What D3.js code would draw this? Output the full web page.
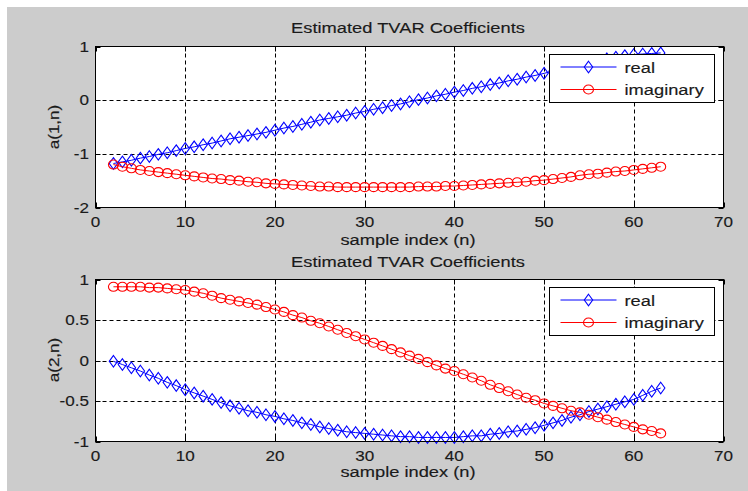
<!DOCTYPE html>
<html><head><meta charset="utf-8">
<script src="https://cdn.jsdelivr.net/npm/d3@7"></script>
<style>html,body{margin:0;padding:0;background:#fff;} svg{display:block;font-family:Arial,"Liberation Sans",sans-serif;}</style>
</head><body><svg id="c" width="748" height="491"></svg>
<script>
const sampleIndex = [2,3,4,5,6,7,8,9,10,11,12,13,14,15,16,17,18,19,20,21,22,23,24,25,26,27,28,29,30,31,32,33,34,35,36,37,38,39,40,41,42,43,44,45,46,47,48,49,50,51,52,53,54,55,56,57,58,59,60,61,62,63];
const a1Real = [-1.18,-1.15,-1.12,-1.08,-1.05,-1.01,-0.98,-0.94,-0.90,-0.87,-0.83,-0.80,-0.76,-0.72,-0.69,-0.66,-0.63,-0.60,-0.56,-0.52,-0.49,-0.45,-0.41,-0.37,-0.34,-0.31,-0.28,-0.24,-0.21,-0.17,-0.14,-0.10,-0.07,-0.03,0.01,0.04,0.08,0.11,0.15,0.18,0.22,0.25,0.29,0.32,0.36,0.39,0.43,0.46,0.50,0.54,0.58,0.62,0.66,0.70,0.73,0.77,0.80,0.83,0.85,0.86,0.87,0.88];
const a1Imag = [-1.20,-1.24,-1.27,-1.30,-1.32,-1.34,-1.36,-1.38,-1.40,-1.42,-1.44,-1.46,-1.47,-1.49,-1.50,-1.52,-1.53,-1.55,-1.56,-1.57,-1.58,-1.59,-1.60,-1.61,-1.61,-1.62,-1.62,-1.62,-1.62,-1.62,-1.62,-1.62,-1.62,-1.62,-1.61,-1.61,-1.61,-1.60,-1.60,-1.59,-1.58,-1.57,-1.56,-1.55,-1.54,-1.53,-1.52,-1.50,-1.49,-1.47,-1.45,-1.43,-1.40,-1.38,-1.37,-1.35,-1.33,-1.32,-1.30,-1.28,-1.26,-1.24];
const a2Real = [-0.01,-0.05,-0.09,-0.13,-0.18,-0.22,-0.27,-0.31,-0.36,-0.40,-0.44,-0.48,-0.52,-0.56,-0.59,-0.62,-0.64,-0.67,-0.69,-0.72,-0.74,-0.77,-0.79,-0.82,-0.84,-0.86,-0.88,-0.89,-0.90,-0.91,-0.92,-0.93,-0.94,-0.94,-0.95,-0.95,-0.95,-0.95,-0.95,-0.94,-0.93,-0.93,-0.91,-0.90,-0.88,-0.87,-0.85,-0.83,-0.80,-0.77,-0.74,-0.70,-0.67,-0.63,-0.60,-0.57,-0.54,-0.51,-0.48,-0.43,-0.38,-0.34];
const a2Imag = [0.91,0.91,0.91,0.91,0.90,0.90,0.89,0.88,0.87,0.85,0.83,0.80,0.77,0.75,0.73,0.71,0.69,0.66,0.63,0.60,0.56,0.53,0.49,0.46,0.42,0.38,0.34,0.30,0.26,0.22,0.18,0.14,0.10,0.06,0.02,-0.02,-0.06,-0.10,-0.13,-0.17,-0.21,-0.25,-0.30,-0.34,-0.38,-0.42,-0.46,-0.49,-0.53,-0.56,-0.59,-0.62,-0.64,-0.67,-0.70,-0.73,-0.76,-0.79,-0.82,-0.85,-0.87,-0.90];
const xTicks = [0,10,20,30,40,50,60,70];
const yTicks1 = [-2,-1,0,1];
const yTicks2 = [-1,-0.5,0,0.5,1];
const seriesNames = ["real","imaginary"];
const seriesColors = ["#0000ff","#ff0000"];
const seriesMarkers = ["diamond","circle"];
const chartTitle = "Estimated TVAR Coefficients";
const xLabel = "sample index (n)";
const yLabels = ["a(1,n)","a(2,n)"];

const svg = d3.select("#c");
const SX = 1.22;
const textColor = "#1a1a1a";

svg.append("rect").attr("x",7).attr("y",7).attr("width",741).attr("height",484).attr("fill","#cccccc");

function txt(g, x, y, s, size, anchor, rot){
  return g.append("text")
    .attr("transform", `translate(${x},${y})` + (rot ? ` rotate(${rot})` : "") + ` scale(${SX},1)`)
    .attr("text-anchor", anchor || "middle")
    .attr("font-size", size)
    .attr("fill", textColor)
    .attr("stroke", textColor).attr("stroke-width", 0.15)
    .text(s);
}

const x = d3.scaleLinear().domain([0,70]).range([95.5,723.5]);

function marker(g, type, cx, cy, color){
  if(type==="diamond"){
    g.append("path").attr("d",`M${cx},${cy-5.8}L${cx+4.2},${cy}L${cx},${cy+5.8}L${cx-4.2},${cy}Z`)
      .attr("fill","none").attr("stroke",color).attr("stroke-width",1.1);
  } else {
    g.append("ellipse").attr("cx",cx).attr("cy",cy).attr("rx",5).attr("ry",4.5)
      .attr("fill","none").attr("stroke",color).attr("stroke-width",1.1);
  }
}

const panels = [
  {top:46.5, bottom:207.5, domain:[-2,1], ticks:yTicks1, ylabel:yLabels[0], ylabelY:127, series:[a1Real,a1Imag], titleY:33, xTickY:227, xLabelY:245, legendTop:54.5},
  {top:279.5, bottom:441.5, domain:[-1,1], ticks:yTicks2, ylabel:yLabels[1], ylabelY:360, series:[a2Real,a2Imag], titleY:267, xTickY:461, xLabelY:477, legendTop:287.5}
];

panels.forEach(p=>{
  const y = d3.scaleLinear().domain(p.domain).range([p.bottom,p.top]);
  const g = svg.append("g");
  g.append("rect").attr("x",x(0)).attr("y",p.top).attr("width",x(70)-x(0)).attr("height",p.bottom-p.top).attr("fill","#fff");
  xTicks.slice(1,-1).forEach(t=>{
    g.append("line").attr("x1",Math.round(x(t))+0.5).attr("x2",Math.round(x(t))+0.5).attr("y1",p.top).attr("y2",p.bottom)
      .attr("stroke","#000").attr("stroke-width",1).attr("stroke-dasharray","4,3");
  });
  p.ticks.slice(1,-1).forEach(t=>{
    g.append("line").attr("y1",Math.round(y(t))+0.5).attr("y2",Math.round(y(t))+0.5).attr("x1",x(0)).attr("x2",x(70))
      .attr("stroke","#000").attr("stroke-width",1).attr("stroke-dasharray","4,3");
  });
  p.series.forEach((vals,i)=>{
    const line = d3.line().x((d,j)=>x(sampleIndex[j])).y(d=>y(d));
    g.append("path").datum(vals).attr("d",line).attr("fill","none").attr("stroke",seriesColors[i]).attr("stroke-width",1);
    vals.forEach((v,j)=>marker(g, seriesMarkers[i], x(sampleIndex[j]), y(v), seriesColors[i]));
  });
  xTicks.forEach(t=>{
    const xx = Math.round(x(t))+0.5;
    g.append("line").attr("x1",xx).attr("x2",xx).attr("y1",p.bottom).attr("y2",p.bottom-5).attr("stroke","#000");
    g.append("line").attr("x1",xx).attr("x2",xx).attr("y1",p.top).attr("y2",p.top+5).attr("stroke","#000");
    txt(svg, x(t), p.xTickY, String(t), "14px", "middle");
  });
  p.ticks.forEach(t=>{
    const yy = Math.round(y(t))+0.5;
    g.append("line").attr("x1",x(0)).attr("x2",x(0)+5).attr("y1",yy).attr("y2",yy).attr("stroke","#000");
    g.append("line").attr("x1",x(70)).attr("x2",x(70)-5).attr("y1",yy).attr("y2",yy).attr("stroke","#000");
    txt(svg, 89, y(t)+5, String(t), "14px", "end");
  });
  g.append("rect").attr("x",x(0)).attr("y",p.top).attr("width",x(70)-x(0)).attr("height",p.bottom-p.top)
    .attr("fill","none").attr("stroke","#000").attr("stroke-width",1);
  txt(svg, 408, p.titleY, chartTitle, "15px", "middle");
  txt(svg, 408, p.xLabelY, xLabel, "15px", "middle");
  txt(svg, 59, p.ylabelY, p.ylabel, "14px", "middle", -90);
  const lg = svg.append("g").attr("transform",`translate(549.5,${p.legendTop})`);
  lg.append("rect").attr("width",165).attr("height",48).attr("fill","#fff").attr("stroke","#000").attr("stroke-width",1);
  seriesNames.forEach((nm,i)=>{
    const cy = 12.5 + i*22.5;
    lg.append("line").attr("x1",11).attr("x2",67).attr("y1",cy).attr("y2",cy).attr("stroke",seriesColors[i]).attr("stroke-width",1);
    marker(lg, seriesMarkers[i], 39, cy, seriesColors[i]);
    txt(lg, 75, cy+5.5, nm, "15px", "start");
  });
});
</script></body></html>
